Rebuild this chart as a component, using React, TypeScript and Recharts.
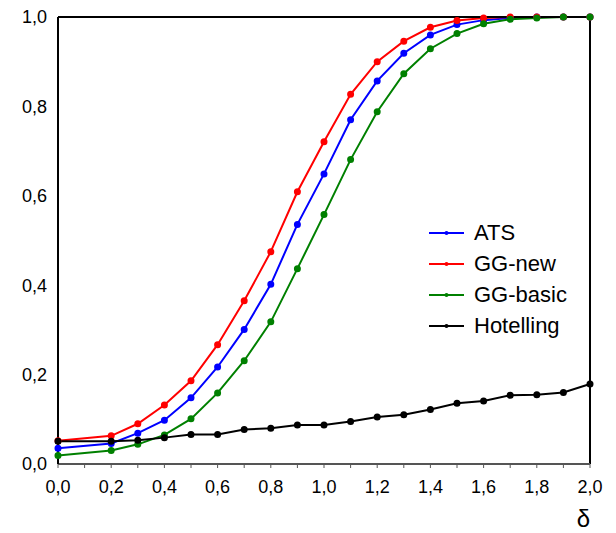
import { LineChart, Line, XAxis, YAxis, Label } from "recharts";

// delta values (no point at 0.1)
const deltas = [0, 0.2, 0.3, 0.4, 0.5, 0.6, 0.7, 0.8, 0.9, 1.0, 1.1, 1.2, 1.3, 1.4, 1.5, 1.6, 1.7, 1.8, 1.9, 2.0];

const ats = [0.035, 0.046, 0.069, 0.098, 0.148, 0.217, 0.301, 0.402, 0.536, 0.649, 0.77, 0.857, 0.919, 0.96, 0.983, 0.993, 0.998, 1.0, 1.0, 1.0];
const ggNew = [0.052, 0.063, 0.09, 0.132, 0.186, 0.267, 0.365, 0.475, 0.609, 0.721, 0.827, 0.9, 0.946, 0.977, 0.992, 0.998, 1.0, 1.0, 1.0, 1.0];
const ggBasic = [0.019, 0.03, 0.044, 0.065, 0.101, 0.159, 0.231, 0.318, 0.437, 0.558, 0.681, 0.788, 0.873, 0.929, 0.963, 0.985, 0.995, 0.998, 1.0, 1.0];
const hotelling = [0.051, 0.051, 0.053, 0.059, 0.066, 0.066, 0.077, 0.08, 0.087, 0.087, 0.095, 0.105, 0.11, 0.122, 0.136, 0.141, 0.154, 0.155, 0.16, 0.179];

const seriesKeys = ["ats", "ggNew", "ggBasic", "hotelling"];
const seriesNames = ["ATS", "GG-new", "GG-basic", "Hotelling"];
const seriesColors = ["#0000ff", "#ff0000", "#008000", "#000000"];

const xTicks = [0, 0.1, 0.2, 0.3, 0.4, 0.5, 0.6, 0.7, 0.8, 0.9, 1.0, 1.1, 1.2, 1.3, 1.4, 1.5, 1.6, 1.7, 1.8, 1.9, 2.0];
const yTicks = [0, 0.1, 0.2, 0.3, 0.4, 0.5, 0.6, 0.7, 0.8, 0.9, 1.0];

const data = deltas.map((d, i) => ({
  d,
  ats: ats[i],
  ggNew: ggNew[i],
  ggBasic: ggBasic[i],
  hotelling: hotelling[i],
}));

const font = "'Liberation Sans', Arial, sans-serif";

// label only every other tick, decimal comma
const fmt = (v: number) =>
  Math.round(v * 10) % 2 === 0 ? v.toFixed(1).replace(".", ",") : "";

function LegendBox() {
  return (
    <div style={{ position: "absolute", left: 421, top: 209, fontFamily: font, fontSize: 22, color: "#000" }}>
      {seriesNames.map((name, i) => (
        <div key={name} style={{ display: "flex", alignItems: "center", height: 31 }}>
          <svg width={35} height={10}>
            <line x1={0} y1={5} x2={35} y2={5} stroke={seriesColors[i]} strokeWidth={2} />
            <circle cx={17.5} cy={5} r={2} fill={seriesColors[i]} />
          </svg>
          <span style={{ marginLeft: 10 }}>{name}</span>
        </div>
      ))}
    </div>
  );
}

export default function App() {
  const tickStyle = { fill: "#000", fontSize: 18, fontFamily: font };
  return (
    <div style={{ position: "relative", width: 600, height: 525 }}>
      <LineChart width={600} height={525} data={data} margin={{ top: 8, right: 17, left: 0, bottom: 0 }}>
        {/* top and right frame lines */}
        <XAxis
          xAxisId="top"
          orientation="top"
          type="number"
          domain={[0, 2]}
          height={1}
          tick={false}
          tickLine={false}
          axisLine={{ stroke: "#000", strokeWidth: 2 }}
        />
        <YAxis
          yAxisId="right"
          orientation="right"
          type="number"
          domain={[0, 1]}
          width={1}
          tick={false}
          tickLine={false}
          axisLine={{ stroke: "#000", strokeWidth: 2 }}
        />
        <XAxis
          dataKey="d"
          type="number"
          domain={[0, 2]}
          ticks={xTicks}
          interval={0}
          tickFormatter={fmt}
          tick={tickStyle}
          tickSize={4}
          tickMargin={12}
          height={69}
          axisLine={{ stroke: "#555", strokeWidth: 2 }}
          tickLine={{ stroke: "#555" }}
        >
          <Label value="δ" position="insideBottomRight" offset={0} dy={-6} style={{ fontSize: 24, fontFamily: font, fill: "#000" }} />
        </XAxis>
        <YAxis
          type="number"
          domain={[0, 1]}
          ticks={yTicks}
          interval={0}
          tickFormatter={fmt}
          tick={tickStyle}
          tickLine={false}
          tickMargin={5}
          width={50}
          axisLine={{ stroke: "#000", strokeWidth: 2 }}
        />
        {seriesKeys.map((k, i) => (
          <Line
            key={k}
            dataKey={k}
            name={seriesNames[i]}
            stroke={seriesColors[i]}
            strokeWidth={2}
            dot={{ r: 2.5, fill: seriesColors[i], stroke: seriesColors[i] }}
            isAnimationActive={false}
          />
        ))}
      </LineChart>
      <LegendBox />
    </div>
  );
}
